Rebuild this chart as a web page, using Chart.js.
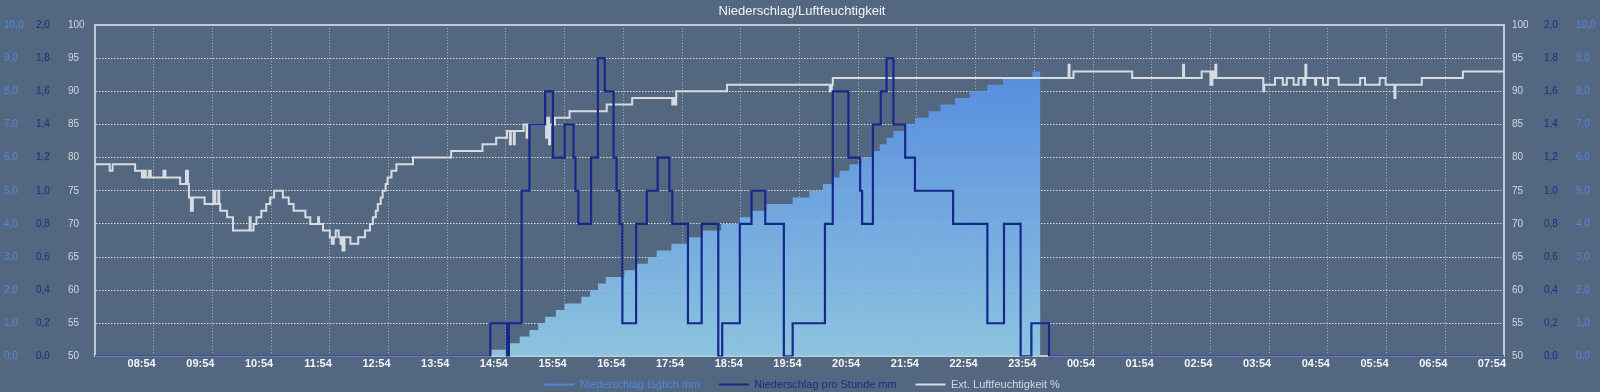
<!DOCTYPE html>
<html>
<head>
<meta charset="utf-8">
<script src="https://cdn.jsdelivr.net/npm/chart.js@4.4.1/dist/chart.umd.min.js"></script>
<style>
html,body{margin:0;padding:0;background:#546780;}
canvas{display:block;}
</style>
</head>
<body>
<canvas id="c" width="1600" height="392"></canvas>
<script>
// ---------- data ----------
const xTickLabels = ['08:54','09:54','10:54','11:54','12:54','13:54','14:54','15:54','16:54','17:54','18:54','19:54',
  '20:54','21:54','22:54','23:54','00:54','01:54','02:54','03:54','04:54','05:54','06:54','07:54'];
const humidityTicks = [50,55,60,65,70,75,80,85,90,95,100];
const hourlyTicks = [0,0.2,0.4,0.6,0.8,1.0,1.2,1.4,1.6,1.8,2.0];
const dailyTicks = [0,1,2,3,4,5,6,7,8,9,10];

const dailyTimes = ['07:54','14:39','14:55','14:57','15:08','15:18','15:27','15:34','15:45','15:54','16:11','16:20','16:28',
  '16:36','16:55','17:07','17:19','17:28','17:43','18:00','18:15','18:34','18:53','19:05','19:20','19:47','20:04','20:18',
  '20:28','20:35','20:45','20:57','21:09','21:16','21:23','21:30','21:42','21:52','22:06','22:18','22:33','22:48','23:06',
  '23:22','23:52','00:00','07:54'];
const dailyValues = [0,0.2,0,0.4,0.6,0.8,1.0,1.2,1.4,1.6,1.8,2.0,2.2,
  2.4,2.6,2.8,3.0,3.2,3.4,3.6,3.8,4.0,4.2,4.4,4.6,4.8,5.0,5.2,
  5.4,5.6,5.8,6.0,6.2,6.4,6.6,6.8,7.0,7.2,7.4,7.6,7.8,8.0,8.2,
  8.4,8.6,0,0];

const hourlyTimes = ['07:54','14:38','14:55','14:57','15:10','15:18','15:34','15:42','15:54','16:03','16:05','16:08','16:21',
  '16:28','16:35','16:44','16:47','16:50','16:53','17:07','17:18','17:29','17:41','17:44','18:00','18:14','18:31','18:35',
  '18:53','19:05','19:19','19:38','19:47','20:20','20:28','20:44','20:56','20:58','21:09','21:17','21:23','21:30','21:42',
  '21:52','22:31','23:06','23:23','23:40','23:51','00:09','07:54'];
const hourlyValues = [0,0.2,0,0.2,1.0,1.4,1.6,1.2,1.4,1.2,1.0,0.8,1.2,
  1.8,1.6,1.2,1.0,0.8,0.2,0.8,1.0,1.2,1.0,0.8,0.2,0.8,0,0.2,
  0.8,1.0,0.8,0,0.2,0.8,1.6,1.2,1.0,0.8,1.4,1.6,1.8,1.4,1.2,
  1.0,0.8,0.2,0.8,0,0.2,0,0];

const humidityTimes = ['07:54','08:09','08:12','08:35','08:42','08:44','08:46','08:49','08:51','09:04','09:06','09:21',
  '09:27','09:29','09:30','09:32','09:34','09:46','09:55','09:57','10:00','10:01','10:02','10:09','10:15','10:32',
  '10:33','10:36','10:39','10:44','10:49','10:53','10:57','11:06','11:12','11:17','11:29','11:34','11:42','11:43',
  '11:47','11:54','11:56','11:58','12:00','12:03','12:05','12:06','12:07','12:09','12:15','12:23','12:30','12:35',
  '12:38','12:41','12:43','12:46','12:48','12:51','12:53','12:57','13:02','13:19','13:58','14:30','14:44','14:55',
  '14:58','14:59','15:02','15:03','15:12','15:15','15:16','15:34','15:35','15:37','15:38','15:39','15:44','15:59',
  '16:37','17:03','17:44','17:45','17:46','17:48','18:40','20:25','20:27','20:28','00:29','00:30','00:34','01:34',
  '02:26','02:27','02:45','02:54','02:56','02:57','02:59','03:00','03:48','03:49','04:00','04:08','04:12','04:19',
  '04:24','04:29','04:31','04:32','04:41','04:42','04:49','04:54','05:05','05:27','05:32','05:47','05:53','06:02',
  '06:03','06:30','07:12','07:54'];
const humidityValues = [79,78,79,78,77,78,77,78,77,78,77,76,
  78,76,74,72,74,73,75,73,75,73,72,71,69,71,
  69,70,71,72,73,74,75,74,73,72,71,70,71,70,
  69,68,67,68,69,68,67,68,66,68,67,68,69,70,
  71,72,73,74,75,76,77,78,79,80,81,82,83,84,
  82,84,82,84,85,83,85,86,83,86,82,85,86,87,
  88,89,88,89,88,90,91,90,91,92,94,92,93,92,
  94,92,93,91,93,92,94,92,90,91,92,91,92,91,
  92,91,94,92,91,92,91,92,91,92,91,92,91,89,
  91,92,93,93];

// ---------- helpers ----------
const START_MIN = 7 * 60 + 54;
function toOffsets(times) {
  let day = 0, prev = -1;
  return times.map(t => {
    const [h, m] = t.split(':').map(Number);
    const v = h * 60 + m;
    if (prev >= 0 && v < prev) day++;
    prev = v;
    return v + day * 1440 - START_MIN;
  });
}
function points(times, values) {
  const off = toOffsets(times);
  return off.map((x, i) => ({x: x, y: values[i]}));
}
const comma = v => Number(v).toFixed(1).replace('.', ',');
const setTicks = arr => scale => { scale.ticks = arr.map(v => ({value: v})); };
const fixWidth = w => scale => { scale.width = w; };

const COL_DAILY = '#4f86dc';
const COL_HOURLY = '#15298c';
const COL_HUM = '#d6dbe2';
const COL_BORDER = '#c3c9d2';
const COL_DAILY_TXT = '#5088de';
const COL_HOURLY_TXT = '#1b2d85';
const COL_HUM_TXT = '#d3d8df';

Chart.defaults.font.family = '"Liberation Sans", Arial, Helvetica, sans-serif';

function areaFill(ctx) {
  const chart = ctx.chart;
  const a = chart.chartArea;
  if (!a) return 'rgba(140,195,222,0.9)';
  const g = chart.ctx.createLinearGradient(0, a.bottom, 0, a.top);
  g.addColorStop(0, 'rgba(146,203,230,0.92)');
  g.addColorStop(1, 'rgba(78,134,230,0.92)');
  return g;
}

const yLeftCommon = {
  position: 'left',
  grid: {display: false, drawTicks: false},
  border: {display: false}
};

new Chart(document.getElementById('c'), {
  type: 'line',
  data: {
    datasets: [
      {
        label: 'Niederschlag täglich mm    ',
        data: points(dailyTimes, dailyValues),
        yAxisID: 'yDaily',
        stepped: 'before',
        fill: 'origin',
        backgroundColor: areaFill,
        borderColor: 'rgba(0,0,0,0)',
        borderWidth: 1,
        pointRadius: 0,
        order: 3
      },
      {
        label: 'Niederschlag pro Stunde mm    ',
        data: points(hourlyTimes, hourlyValues),
        yAxisID: 'yHourly',
        stepped: 'before',
        fill: false,
        borderColor: COL_HOURLY,
        borderWidth: 2.2,
        pointRadius: 0,
        order: 1
      },
      {
        label: 'Ext. Luftfeuchtigkeit %',
        data: points(humidityTimes, humidityValues),
        yAxisID: 'yHum',
        stepped: 'before',
        fill: false,
        borderColor: COL_HUM,
        borderWidth: 2,
        pointRadius: 0,
        order: 2
      }
    ]
  },
  options: {
    responsive: false,
    animation: false,
    devicePixelRatio: 1,
    layout: {padding: {left: 4, right: 0, top: 0, bottom: -8}},
    plugins: {
      tooltip: {enabled: false},
      title: {
        display: true,
        text: 'Niederschlag/Luftfeuchtigkeit',
        color: '#f2f3f5',
        font: {size: 13, weight: 'normal'},
        padding: {top: 4, bottom: 5.5}
      },
      legend: {
        position: 'bottom',
        labels: {
          boxWidth: 30,
          boxHeight: 2,
          padding: 6.5,
          font: {size: 11},
          generateLabels: chart => {
            const cols = [COL_DAILY, COL_HOURLY, COL_HUM];
            const txt = [COL_DAILY_TXT, COL_HOURLY_TXT, COL_HUM_TXT];
            return chart.data.datasets.map((ds, i) => ({
              text: ds.label,
              fillStyle: cols[i],
              strokeStyle: cols[i],
              lineWidth: 0,
              fontColor: txt[i],
              hidden: !chart.isDatasetVisible(i),
              datasetIndex: i
            }));
          }
        }
      }
    },
    scales: {
      x: {
        type: 'linear',
        position: 'bottom',
        min: 0,
        max: 1440,
        afterBuildTicks: scale => {
          scale.ticks = [{value: 0}].concat(xTickLabels.map((l, i) => ({value: (i + 1) * 60})));
        },
        ticks: {
          autoSkip: false,
          maxRotation: 0,
          align: 'end',
          labelOffset: 2,
          padding: 2,
          color: '#f4f5f7',
          font: {size: 11, weight: 'bold', lineHeight: 1.1},
          callback: v => {
            const i = Math.round(v / 60) - 1;
            return i >= 0 ? xTickLabels[i] : '';
          }
        },
        grid: {color: 'rgba(255,255,255,0.5)', lineWidth: 1, drawTicks: false},
        border: {display: true, color: COL_BORDER, width: 2, dash: [1, 2]}
      },
      yHum: {
        position: 'left',
        weight: 0,
        min: 50, max: 100,
        afterBuildTicks: setTicks(humidityTicks),
        afterFit: fixWidth(27),
        ticks: {crossAlign: 'far', padding: 0, color: COL_HUM_TXT, font: {size: 10}},
        grid: {
          drawTicks: false,
          color: c => (c.tick && c.tick.value === 100) ? COL_BORDER : 'rgba(255,255,255,0.75)',
          lineWidth: c => (c.tick && c.tick.value === 100) ? 2 : 1
        },
        border: {
          display: true, color: COL_BORDER, width: 2,
          dash: c => (c.tick && c.tick.value === 100) ? [] : [1.5, 1.5]
        }
      },
      yHourly: Object.assign({}, yLeftCommon, {
        weight: 1, min: 0, max: 2,
        afterBuildTicks: setTicks(hourlyTicks),
        afterFit: fixWidth(32),
        ticks: {crossAlign: 'far', padding: 0, color: COL_HOURLY_TXT, font: {size: 10}, callback: comma}
      }),
      yDaily: Object.assign({}, yLeftCommon, {
        weight: 2, min: 0, max: 10,
        afterBuildTicks: setTicks(dailyTicks),
        afterFit: fixWidth(32),
        ticks: {crossAlign: 'far', padding: 0, color: COL_DAILY_TXT, font: {size: 10}, callback: comma}
      }),
      yHumR: {
        position: 'right',
        weight: 0,
        min: 50, max: 100,
        afterBuildTicks: setTicks(humidityTicks),
        afterFit: fixWidth(32),
        ticks: {padding: 8, color: COL_HUM_TXT, font: {size: 10}},
        grid: {drawOnChartArea: false, drawTicks: false},
        border: {display: true, color: COL_BORDER, width: 2}
      },
      yHourlyR: {
        position: 'right',
        weight: 1,
        min: 0, max: 2,
        afterBuildTicks: setTicks(hourlyTicks),
        afterFit: fixWidth(32),
        ticks: {padding: 8, color: COL_HOURLY_TXT, font: {size: 10}, callback: comma},
        grid: {display: false, drawTicks: false},
        border: {display: false}
      },
      yDailyR: {
        position: 'right',
        weight: 2,
        min: 0, max: 10,
        afterBuildTicks: setTicks(dailyTicks),
        afterFit: fixWidth(32),
        ticks: {padding: 8, color: COL_DAILY_TXT, font: {size: 10}, callback: comma},
        grid: {display: false, drawTicks: false},
        border: {display: false}
      }
    }
  }
});
</script>
</body>
</html>
